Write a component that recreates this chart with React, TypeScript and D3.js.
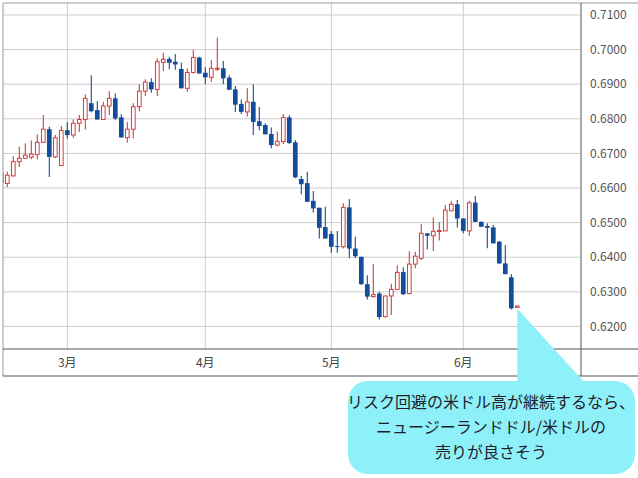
import * as d3 from 'd3'

// NZD/USD daily, 2022-02-14 .. 2022-06-14 (weekdays)
const START = '2022-02-14'
const END = '2022-06-15'

const opens = [
  0.6643, 0.6613, 0.6635, 0.6676, 0.6686, 0.6689, 0.6697, 0.6732, 0.6770, 0.6690,
  0.6665, 0.6767, 0.6753, 0.6787, 0.6798, 0.6845, 0.6825, 0.6798, 0.6837, 0.6859,
  0.6804, 0.6746, 0.6770, 0.6835, 0.6880, 0.6906, 0.6885, 0.6963, 0.6973, 0.6965,
  0.6944, 0.6888, 0.6934, 0.6977, 0.6933, 0.6920, 0.6945, 0.6946, 0.6919, 0.6885,
  0.6843, 0.6820, 0.6849, 0.6793, 0.6782, 0.6756, 0.6724, 0.6734, 0.6804, 0.6732,
  0.6626, 0.6614, 0.6563, 0.6543, 0.6487, 0.6467, 0.6432, 0.6430, 0.6544, 0.6425,
  0.6401, 0.6322, 0.6286, 0.6295, 0.6228, 0.6288, 0.6307, 0.6357, 0.6295, 0.6380,
  0.6397, 0.6469, 0.6462, 0.6476, 0.6476, 0.6534, 0.6553, 0.6512, 0.6476, 0.6558,
  0.6502, 0.6490, 0.6486, 0.6445, 0.6382, 0.6342, 0.6255,
]
const highs = [
  0.6652, 0.6647, 0.6692, 0.6719, 0.6729, 0.6737, 0.6755, 0.6811, 0.6777, 0.6753,
  0.6779, 0.6790, 0.6798, 0.6811, 0.6871, 0.6926, 0.6851, 0.6849, 0.6880, 0.6873,
  0.6813, 0.6791, 0.6845, 0.6900, 0.6914, 0.6917, 0.6975, 0.6991, 0.6979, 0.6987,
  0.6963, 0.6946, 0.6999, 0.6979, 0.6949, 0.6970, 0.7035, 0.6967, 0.6926, 0.6895,
  0.6856, 0.6888, 0.6900, 0.6834, 0.6787, 0.6775, 0.6763, 0.6814, 0.6810, 0.6739,
  0.6635, 0.6647, 0.6591, 0.6543, 0.6546, 0.6476, 0.6476, 0.6556, 0.6568, 0.6459,
  0.6401, 0.6348, 0.6380, 0.6300, 0.6288, 0.6323, 0.6377, 0.6371, 0.6417, 0.6416,
  0.6495, 0.6470, 0.6515, 0.6501, 0.6551, 0.6563, 0.6565, 0.6512, 0.6563, 0.6577,
  0.6504, 0.6498, 0.6493, 0.6447, 0.6435, 0.6351, 0.6260,
]
const lows = [
  0.6608, 0.6603, 0.6633, 0.6661, 0.6684, 0.6683, 0.6683, 0.6730, 0.6632, 0.6686,
  0.6665, 0.6743, 0.6745, 0.6762, 0.6769, 0.6819, 0.6798, 0.6798, 0.6811, 0.6796,
  0.6746, 0.6731, 0.6743, 0.6822, 0.6866, 0.6875, 0.6866, 0.6938, 0.6943, 0.6942,
  0.6888, 0.6878, 0.6931, 0.6931, 0.6900, 0.6907, 0.6938, 0.6900, 0.6883, 0.6820,
  0.6814, 0.6806, 0.6753, 0.6767, 0.6755, 0.6715, 0.6721, 0.6727, 0.6727, 0.6628,
  0.6582, 0.6560, 0.6529, 0.6454, 0.6454, 0.6413, 0.6413, 0.6425, 0.6397, 0.6397,
  0.6320, 0.6278, 0.6283, 0.6220, 0.6226, 0.6233, 0.6307, 0.6291, 0.6293, 0.6368,
  0.6392, 0.6423, 0.6418, 0.6448, 0.6476, 0.6534, 0.6486, 0.6469, 0.6462, 0.6502,
  0.6487, 0.6426, 0.6440, 0.6380, 0.6351, 0.6249, 0.6254,
]
const closes = [
  0.6614, 0.6637, 0.6676, 0.6686, 0.6695, 0.6698, 0.6732, 0.6770, 0.6690, 0.6745,
  0.6766, 0.6753, 0.6787, 0.6798, 0.6859, 0.6822, 0.6798, 0.6837, 0.6859, 0.6801,
  0.6746, 0.6770, 0.6835, 0.6880, 0.6906, 0.6885, 0.6965, 0.6972, 0.6962, 0.6957,
  0.6888, 0.6934, 0.6977, 0.6931, 0.6920, 0.6946, 0.6946, 0.6917, 0.6884, 0.6841,
  0.6820, 0.6849, 0.6791, 0.6779, 0.6755, 0.6724, 0.6735, 0.6804, 0.6730, 0.6631,
  0.6611, 0.6560, 0.6541, 0.6485, 0.6454, 0.6430, 0.6431, 0.6544, 0.6425, 0.6403,
  0.6322, 0.6286, 0.6292, 0.6227, 0.6288, 0.6307, 0.6356, 0.6293, 0.6380, 0.6403,
  0.6469, 0.6462, 0.6475, 0.6477, 0.6536, 0.6553, 0.6512, 0.6476, 0.6557, 0.6502,
  0.6488, 0.6485, 0.6440, 0.6382, 0.6351, 0.6252, 0.6259,
]

const yTicks = [0.62, 0.63, 0.64, 0.65, 0.66, 0.67, 0.68, 0.69, 0.70, 0.71]
const noteLines = [
  'リスク回避の米ドル高が継続するなら、',
  'ニュージーランドドル/米ドルの',
  '売りが良さそう',
]

const W = 638
const H = 478
const plot = { left: 3, top: 3, right: 581, bottom: 349 }
const axisBottom = 376

const UP = '#d63c3c'
const DOWN = '#124c9b'
const GRID = '#cdcdcd'
const FRAME = '#555'
const NOTE = '#8ef1fa'
const FONT = '"Noto Sans CJK JP", "Noto Sans", sans-serif'

const dates = d3.timeDay
  .range(new Date(START + 'T00:00:00'), new Date(END + 'T00:00:00'))
  .filter(d => d.getDay() !== 0 && d.getDay() !== 6)

const candles = dates.map((date, i) => ({
  date,
  open: opens[i],
  high: highs[i],
  low: lows[i],
  close: closes[i],
}))

export default function App() {
  const x = d3.scaleBand<Date>()
    .domain(dates)
    .range([-1.7, -1.7 + dates.length * 6])
    .paddingInner(0.22)
    .paddingOuter(0.11)
  const bw = x.bandwidth()
  const cx = (d: Date) => (x(d) ?? 0) + bw / 2

  const y = d3.scaleLinear().domain([0.62, 0.71]).range([326.4, 15])

  // first trading day of each month
  const monthStarts = dates.filter((d, i) => i > 0 && d.getMonth() !== dates[i - 1].getMonth())

  const tipX = cx(dates[dates.length - 1])
  const tipY = y(lows[lows.length - 1]) + 1

  return (
    <svg width={W} height={H} style={{ position: 'absolute', left: 0, top: 0 }} fontFamily={FONT}>
      <defs>
        <clipPath id="plot-clip">
          <rect x={plot.left} y={plot.top} width={plot.right - plot.left} height={plot.bottom - plot.top} />
        </clipPath>
      </defs>
      <rect x={0} y={0} width={W} height={H} fill="#fff" />

      {/* grid */}
      {yTicks.map(t => (
        <line key={t} x1={plot.left} x2={plot.right} y1={y(t)} y2={y(t)} stroke={GRID} strokeWidth={1} />
      ))}
      {monthStarts.map(d => (
        <line key={+d} x1={cx(d)} x2={cx(d)} y1={plot.top} y2={plot.bottom} stroke={GRID} strokeWidth={1} />
      ))}

      {/* candles */}
      <g clipPath="url(#plot-clip)">
        {candles.map(c => {
          const up = c.close >= c.open
          const col = up ? UP : DOWN
          const top = y(Math.max(c.open, c.close))
          const bot = y(Math.min(c.open, c.close))
          const h = Math.max(1, bot - top)
          const xc = cx(c.date)
          return (
            <g key={+c.date}>
              <line x1={xc} x2={xc} y1={y(c.high)} y2={y(c.low)} stroke={col} strokeWidth={1.1} />
              {up ? (
                <rect x={xc - bw / 2 + 0.5} y={top} width={bw - 1} height={h} fill="#fff" stroke={col} strokeWidth={1} />
              ) : (
                <rect x={xc - bw / 2} y={top} width={bw} height={h} fill={col} />
              )}
            </g>
          )
        })}
      </g>

      {/* frame */}
      <line x1={plot.left} x2={W} y1={plot.top} y2={plot.top} stroke="#999" />
      <line x1={plot.left} x2={plot.left} y1={plot.top} y2={axisBottom} stroke="#999" />
      <line x1={plot.right} x2={plot.right} y1={plot.top} y2={axisBottom} stroke={FRAME} />
      <line x1={plot.left} x2={W} y1={plot.bottom} y2={plot.bottom} stroke={FRAME} />
      <line x1={plot.left} x2={W} y1={axisBottom} y2={axisBottom} stroke={FRAME} />

      {/* y labels */}
      {yTicks.map(t => (
        <text key={t} x={590} y={y(t)} dy="0.35em" fontSize={12} fill="#555">
          {d3.format('.4f')(t)}
        </text>
      ))}

      {/* x labels */}
      {monthStarts.map(d => (
        <text key={+d} x={cx(d)} y={(plot.bottom + axisBottom) / 2} dy="0.36em" fontSize={12} fill="#444" textAnchor="middle">
          {`${d.getMonth() + 1}月`}
        </text>
      ))}

      {/* callout */}
      <path d={`M${tipX},${tipY} L${tipX},${396} L${597},${396} Z`} fill={NOTE} />
      <rect x={348} y={381} width={287} height={93} rx={20} fill={NOTE} />
      {noteLines.map((s, i) => (
        <text key={i} x={491} y={402 + i * 25} dy="0.36em" fontSize={16} fill="#1e1e2a" textAnchor="middle">
          {s}
        </text>
      ))}
    </svg>
  )
}
